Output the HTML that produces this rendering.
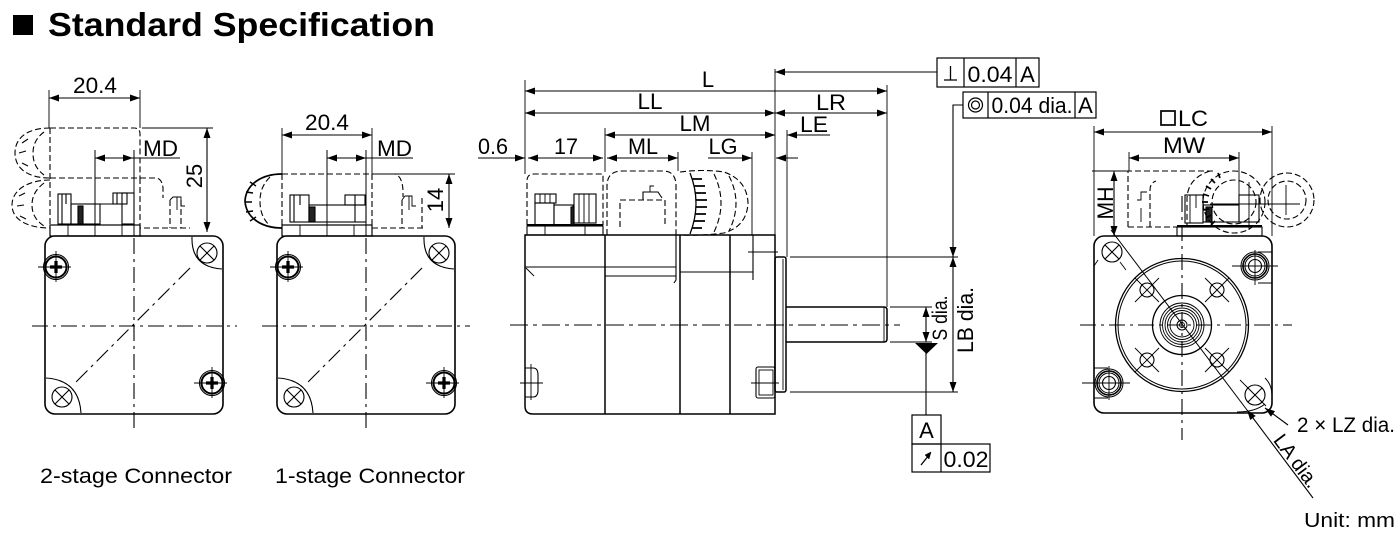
<!DOCTYPE html>
<html><head><meta charset="utf-8"><style>
html,body{margin:0;padding:0;background:#fff;}
svg{display:block;}
text{font-family:"Liberation Sans",Arial,sans-serif;fill:#000;}
</style></head><body>
<svg width="1400" height="534" viewBox="0 0 1400 534" xmlns="http://www.w3.org/2000/svg">
<defs>
<marker id="a" viewBox="0 0 10 7" refX="10" refY="3.5" markerWidth="10" markerHeight="7" markerUnits="userSpaceOnUse" orient="auto-start-reverse"><path d="M0,0 L10,3.5 L0,7 z" fill="#000"/></marker>
<g id="screw" fill="none" stroke="#000">
<circle r="12.5" stroke-width="1.1"/>
<circle r="10.5" stroke-width="2"/>
<path d="M-6 0H6M0-6V6" stroke-width="3.2"/>
<path d="M-18 0H15M0-16V15" stroke-width="0.9"/>
</g>
<g id="hole" fill="none" stroke="#000" stroke-width="1.1">
<circle r="10"/><path d="M-7-7L7 7M7-7L-7 7"/>
</g>
<g id="hole2" fill="none" stroke="#000" stroke-width="1.1">
<circle r="7"/><path d="M-12-12L12 12M12-12L-12 12" stroke-width="0.9"/>
</g>
<g id="body2d" fill="none" stroke="#000">
<rect x="45" y="236" width="178" height="178" rx="10" stroke-width="1.6"/>
<path d="M192 237 Q191 267 222 269" stroke-width="1.1"/>
<path d="M46 378 Q79 380 81 413" stroke-width="1.1"/>
<use href="#hole" x="207" y="253"/>
<use href="#hole" x="62" y="397"/>
<use href="#screw" x="56" y="267"/>
<use href="#screw" x="212" y="383"/>
<path d="M190 268 L73 385" stroke-width="1.1" stroke-dasharray="16 5 3 5"/>
<path d="M134 238 V428" stroke-width="1.1" stroke-dasharray="16 5 3 5"/>
<path d="M134 150 V236" stroke-width="1"/>
<rect x="50" y="225" width="90" height="11" stroke-width="1.2"/>
<path d="M68 225V236M95 225V236M122 225V236" stroke-width="0.9"/>
<path d="M95 150 V225" stroke-width="1"/>
</g>
</defs>
<rect width="1400" height="534" fill="#fff"/>

<!-- Title -->
<rect x="13" y="15" width="20" height="20" fill="#000"/>
<text x="48" y="36" font-size="33" font-weight="bold" textLength="387" lengthAdjust="spacingAndGlyphs">Standard Specification</text>

<!-- ===== View 1 : 2-stage ===== -->
<use href="#body2d"/>
<path d="M32 326 H237" stroke="#000" stroke-width="1.1" stroke-dasharray="16 5 3 5" fill="none"/>
<g fill="none" stroke="#000" stroke-width="1.1">
<rect x="58" y="194" width="13" height="30"/>
<rect x="71" y="204" width="29" height="20"/>
<rect x="78" y="206" width="5" height="18" fill="#222"/>
<rect x="113" y="193" width="14" height="11"/>
<rect x="122" y="193" width="12" height="31"/>
<path d="M100 204 H122"/>
<path d="M62 194V224M66 194V204M117 193V204"/>
<g stroke-dasharray="6 3">
<path d="M50 128 H134 Q140 128 140 134 V178"/>
<path d="M50 178 H140"/>
<path d="M50 128 V226"/>
<path d="M140 178 H155 Q162 178 163 188 V198"/>
<path d="M140 178 V228 H190"/>
<path d="M170 200 V228M181 200 V228"/>
<path d="M50 128 C30 128 15 136 15 153 C15 170 30 178 50 178"/>
<path d="M44 132 C36 138 33 145 33 153 C33 162 36 169 44 175"/>
<path d="M50 180 C28 180 12 190 12 205 C12 220 28 228 50 228"/>
<path d="M44 183 C35 190 32 197 32 205 C32 213 35 220 44 226"/>
</g>
<path d="M170 200 L173 197 H181 V206 H185 M177 197 V210" stroke-width="0.9"/>
<path d="M22 143 L28 139 M19 153 L26 151 M22 163 L28 166 M19 196 L25 193 M17 206 L24 205 M20 216 L26 219" stroke-width="1.1"/>
<path d="M49 90 V128 M140 90 V128" stroke-width="0.9"/>
<path d="M49 98 H140" marker-start="url(#a)" marker-end="url(#a)"/>
<path d="M95 158 H133" marker-start="url(#a)" marker-end="url(#a)"/>
<path d="M133 158 H180"/>
<path d="M142 128 H213" stroke-width="0.9"/>
<path d="M207 128 V232" marker-start="url(#a)" marker-end="url(#a)"/>
</g>
<text x="95" y="93" font-size="22" text-anchor="middle" textLength="44" lengthAdjust="spacingAndGlyphs">20.4</text>
<text x="143" y="156" font-size="22" textLength="35" lengthAdjust="spacingAndGlyphs">MD</text>
<text transform="translate(202,176) rotate(-90)" font-size="22" text-anchor="middle">25</text>

<!-- ===== View 2 : 1-stage ===== -->
<use href="#body2d" x="232"/>
<path d="M262 326 H470" stroke="#000" stroke-width="1.1" stroke-dasharray="16 5 3 5" fill="none"/>
<g fill="none" stroke="#000" stroke-width="1.1">
<rect x="290" y="195" width="19" height="27"/>
<rect x="309" y="205" width="57" height="17"/>
<rect x="309" y="207" width="6" height="15" fill="#222"/>
<rect x="345" y="195" width="20" height="10"/>
<path d="M355 195 V222 M294 195V222 M300 195V205"/>
<g stroke-dasharray="6 3">
<path d="M282 174 H395 Q402 176 403 190 V197"/>
<path d="M372 174 V228 H425"/>
<path d="M282 174 V226"/>
<path d="M402 200 V228 M422 198 V228"/>
<path d="M270 177 C262 185 260 193 260 201 C260 210 262 218 270 226"/>
</g>
<path d="M282 174 C262 174 246 184 245 201 C246 218 262 228 282 228" stroke-width="1.7"/>
<path d="M250 182 L256 186 M246 192 L253 193 M245 202 L252 202 M246 212 L253 211 M250 221 L256 217" stroke-width="1.4"/>
<path d="M402 200 L405 196 H412 V206 H416 M409 196 V210" stroke-width="0.9"/>
<path d="M282 128 V174 M372 128 V174" stroke-width="0.9"/>
<path d="M282 135 H372" marker-start="url(#a)" marker-end="url(#a)"/>
<path d="M327 158 H366" marker-start="url(#a)" marker-end="url(#a)"/>
<path d="M366 158 H413"/>
<path d="M375 174 H455" stroke-width="0.9"/>
<path d="M449 174 V228" marker-start="url(#a)" marker-end="url(#a)"/>
</g>
<text x="327" y="130" font-size="22" text-anchor="middle" textLength="44" lengthAdjust="spacingAndGlyphs">20.4</text>
<text x="377" y="156" font-size="22" textLength="35" lengthAdjust="spacingAndGlyphs">MD</text>
<text transform="translate(443,200) rotate(-90)" font-size="22" text-anchor="middle">14</text>

<text x="40" y="483" font-size="21" textLength="192" lengthAdjust="spacingAndGlyphs">2-stage Connector</text>
<text x="275" y="483" font-size="21" textLength="190" lengthAdjust="spacingAndGlyphs">1-stage Connector</text>

<!-- ===== View 3 : side ===== -->
<g fill="none" stroke="#000" stroke-width="1.5">
<path d="M525 235 H775 V414 H533 Q525 414 525 406 Z"/>
<path d="M605 235 V414 M680 235 V414 M730 235 V414"/>
<path d="M676 235 V280 L674 283 M753 235 V280" stroke-width="1.1"/>
<path d="M525 267 H605 M605 267 H676 M605 276 H676 M680 272 H753" stroke-width="1.1"/>
<path d="M526 268 L534 276" stroke-width="0.9"/>
<path d="M525 368 H533 Q538 368 538 375 V390 Q538 397 533 397 H525" stroke-width="1.1"/>
<path d="M520 383 H543 M531 364 V400" stroke-width="0.9"/>
<rect x="756" y="367" width="19" height="31" rx="2" stroke-width="1.1"/>
<rect x="759" y="370" width="14" height="25" stroke-width="0.9"/>
<path d="M751 383 H779 M748 252 H778" stroke-width="0.9"/>
<rect x="775" y="257" width="11" height="135" rx="2"/>
<path d="M783 259 V390" stroke-width="0.9"/>
<path d="M786 307 H884 Q887 307 887 310 V339 Q887 342 884 342 H786"/>
<path d="M884 307 V342" stroke-width="0.9"/>
</g>
<path d="M510 325 H900" stroke="#000" stroke-width="1.1" stroke-dasharray="18 5 4 5" fill="none"/>
<g fill="none" stroke="#000" stroke-width="1.1">
<rect x="527" y="226" width="76" height="9"/>
<path d="M545 226V235 M585 226V235" stroke-width="0.9"/>
<path d="M527 225 H603" stroke-width="2"/>
<rect x="535" y="194" width="21" height="9"/>
<path d="M540 194V203 M545 194V203 M550 194V203" stroke-width="0.9"/>
<rect x="535" y="203" width="19" height="22"/>
<rect x="554" y="205" width="19" height="20"/>
<rect x="571" y="207" width="3" height="18" fill="#222"/>
<rect x="574" y="194" width="22" height="29"/>
<path d="M579 194V223 M584 194V223 M589 194V223" stroke-width="0.9"/>
<g stroke-dasharray="6 3">
<path d="M527 225 V181 Q527 174 534 174 H603 V225"/>
<path d="M607 235 V186 Q607 171 622 171 H663 Q676 171 676 186 V235"/>
<path d="M620 227 V200 H665 V227"/>
<path d="M680 172 Q702 169 724 172 Q747 180 748 203 Q747 226 724 233 Q702 236 680 235"/>
<path d="M729 176 Q743 203 729 231"/>
<path d="M714 174 Q728 203 714 232"/>
</g>
<path d="M643 200 V192 H658 L662 198" stroke-width="1.1"/>
<path d="M650 192 V186 H654" stroke-width="0.9"/>
<path d="M690 173 Q702 203 690 234" stroke-width="1.3"/>
<path d="M692 179 H702 M694 186 H705 M695 193 H706 M696 200 H707 M696 207 H707 M695 214 H706 M694 221 H705 M692 228 H702" stroke-width="1.7"/>
<path d="M525 80 V174 M605 128 V172 M775 69 V235 M887 85 V307 M787 130 V257 M752 152 V235 M678 152 V171" stroke-width="0.9"/>
<path d="M790 257 H958 M790 392 H958 M890 307 H932 M890 342 H932" stroke-width="0.9"/>
<path d="M525 91 H887" marker-start="url(#a)" marker-end="url(#a)"/>
<path d="M525 113 H775" marker-start="url(#a)" marker-end="url(#a)"/>
<path d="M775 113 H887" marker-start="url(#a)" marker-end="url(#a)"/>
<path d="M605 135 H775" marker-start="url(#a)" marker-end="url(#a)"/>
<path d="M760 135 H775" marker-end="url(#a)"/>
<path d="M830 135 H787" marker-end="url(#a)"/>
<path d="M478 158 H525" marker-end="url(#a)"/>
<path d="M528 158 H603" marker-start="url(#a)" marker-end="url(#a)"/>
<path d="M607 158 H678" marker-start="url(#a)" marker-end="url(#a)"/>
<path d="M708 158 H752" marker-end="url(#a)"/>
<path d="M798 158 H776" marker-end="url(#a)"/>
<path d="M937 72 H775" marker-end="url(#a)"/>
<path d="M963 105 H953 V257" marker-end="url(#a)"/>
<path d="M953 257 V392" marker-start="url(#a)" marker-end="url(#a)"/>
<path d="M926 307 V342" marker-start="url(#a)" marker-end="url(#a)"/>
<path d="M926 353 V415"/>
</g>
<path d="M915 343 H938 L926.5 354 Z" fill="#000"/>
<g fill="none" stroke="#000" stroke-width="1.2">
<rect x="937" y="58" width="102" height="29"/>
<path d="M964 58 V87 M1016 58 V87"/>
<path d="M944 80 H957 M950.5 66 V80" stroke-width="1.3"/>
<rect x="963" y="92" width="133" height="26"/>
<path d="M988 92 V118 M1075 92 V118"/>
<circle cx="975.5" cy="105" r="7" stroke-width="1.2"/>
<circle cx="975.5" cy="105" r="4" stroke-width="1.2"/>
<rect x="912" y="415" width="29" height="29"/>
<rect x="912" y="444" width="78" height="28"/>
<path d="M941 444 V472"/>
<path d="M921 465 L929 455" stroke-width="1.3"/>
<path d="M931 452 L925 455 L929 459 Z" fill="#000" stroke-width="0.5"/>
</g>
<text x="990" y="82" font-size="22" text-anchor="middle" textLength="45" lengthAdjust="spacingAndGlyphs">0.04</text>
<text x="1027.5" y="82" font-size="22" text-anchor="middle">A</text>
<text x="1032" y="113" font-size="22" text-anchor="middle" textLength="81" lengthAdjust="spacingAndGlyphs">0.04 dia.</text>
<text x="1085.5" y="113" font-size="22" text-anchor="middle">A</text>
<text x="926.5" y="438" font-size="22" text-anchor="middle">A</text>
<text x="966" y="467" font-size="22" text-anchor="middle" textLength="45" lengthAdjust="spacingAndGlyphs">0.02</text>
<text x="708" y="87" font-size="22" text-anchor="middle">L</text>
<text x="650" y="109" font-size="22" text-anchor="middle" textLength="25" lengthAdjust="spacingAndGlyphs">LL</text>
<text x="831" y="110" font-size="22" text-anchor="middle" textLength="30" lengthAdjust="spacingAndGlyphs">LR</text>
<text x="695" y="131" font-size="22" text-anchor="middle" textLength="31" lengthAdjust="spacingAndGlyphs">LM</text>
<text x="814" y="132" font-size="22" text-anchor="middle" textLength="28" lengthAdjust="spacingAndGlyphs">LE</text>
<text x="493" y="154" font-size="22" text-anchor="middle" textLength="30" lengthAdjust="spacingAndGlyphs">0.6</text>
<text x="566" y="154" font-size="22" text-anchor="middle" textLength="24" lengthAdjust="spacingAndGlyphs">17</text>
<text x="643" y="154" font-size="22" text-anchor="middle" textLength="30" lengthAdjust="spacingAndGlyphs">ML</text>
<text x="723" y="154" font-size="22" text-anchor="middle" textLength="29" lengthAdjust="spacingAndGlyphs">LG</text>
<text transform="translate(947,318) rotate(-90)" font-size="21" text-anchor="middle" textLength="45" lengthAdjust="spacingAndGlyphs">S dia.</text>
<text transform="translate(973,320) rotate(-90)" font-size="22" text-anchor="middle" textLength="66" lengthAdjust="spacingAndGlyphs">LB dia.</text>

<!-- ===== View 4 : front ===== -->
<g fill="none" stroke="#000" stroke-width="1.1">
<rect x="1094" y="236" width="178" height="177" rx="10" stroke-width="1.6"/>
<path d="M1182 196 V440" stroke-dasharray="16 5 3 5"/>
<path d="M1080 325 H1292" stroke-dasharray="16 5 3 5"/>
<circle cx="1182" cy="325" r="66.5" stroke-width="1.3"/>
<circle cx="1182" cy="325" r="64" stroke-width="1"/>
<circle cx="1182" cy="325" r="29.5" stroke-width="1.3"/>
<circle cx="1182" cy="325" r="22" stroke-width="0.9"/>
<circle cx="1182" cy="325" r="19.5" stroke-width="0.9"/>
<circle cx="1182" cy="325" r="17" stroke-width="0.9"/>
<circle cx="1182" cy="325" r="14.5" stroke-width="0.9"/>
<circle cx="1182" cy="325" r="12" stroke-width="0.9"/>
<circle cx="1182" cy="325" r="5" stroke-width="1"/>
<circle cx="1182" cy="325" r="2.5" stroke-width="0.9"/>
<use href="#hole2" x="1147" y="290"/>
<use href="#hole2" x="1217" y="290"/>
<use href="#hole2" x="1147" y="360"/>
<use href="#hole2" x="1217" y="360"/>
<circle cx="1112" cy="252" r="10"/><path d="M1105 245 L1119 259 M1119 245 L1105 259"/>
<path d="M1098 260 L1094 266 M1120 262 L1126 270" stroke-width="0.9"/>
<circle cx="1255" cy="395" r="10"/><path d="M1248 388 L1262 402 M1262 388 L1248 402"/>
<path d="M1240 380 L1249 389 M1261 401 L1266 406" stroke-width="0.9"/>
<path d="M1237 412 Q1255 412 1265 404" stroke-width="1"/>
<path d="M1265 378 Q1272 385 1272 395" stroke-width="1"/>
<circle cx="1255" cy="266" r="14" stroke-width="1"/>
<circle cx="1255" cy="266" r="12" stroke-width="1.6"/>
<circle cx="1255" cy="266" r="10" stroke-width="1"/>
<circle cx="1255" cy="266" r="6.5" stroke-width="1.1"/>
<path d="M1232 266 H1278 M1255 250 V285" stroke-width="0.9"/>
<path d="M1258 252 H1272 M1258 283 H1272" stroke-width="0.9"/>
<circle cx="1109" cy="383" r="14" stroke-width="1"/>
<circle cx="1109" cy="383" r="12" stroke-width="1.6"/>
<circle cx="1109" cy="383" r="10" stroke-width="1"/>
<circle cx="1109" cy="383" r="6.5" stroke-width="1.1"/>
<path d="M1082 383 H1130 M1109 366 V400" stroke-width="0.9"/>
<path d="M1094 368 H1108 M1094 398 H1108" stroke-width="0.9"/>
<path d="M1111 230 L1247 410" stroke-width="1"/>
<path d="M1313 498 L1247 410" marker-end="url(#a)"/>
<path d="M1288 425 L1265 408" marker-end="url(#a)"/>
<rect x="1177" y="227" width="85" height="9"/>
<path d="M1177 226 H1262" stroke-width="1.9"/>
<rect x="1185" y="195" width="18" height="28"/>
<path d="M1190 195V223M1196 195V208" stroke-width="0.9"/>
<rect x="1203" y="205" width="36" height="17"/>
<rect x="1206" y="207" width="6" height="15" fill="#222"/>
<rect x="1239" y="195" width="20" height="27"/>
<path d="M1249 182 V230 M1210 204 H1300 M1286 185 V215" stroke-width="0.9"/>
<g stroke-dasharray="6 3">
<path d="M1128 227 V171 H1215"/>
<path d="M1128 227 H1177"/>
<path d="M1150 227 V190 Q1150 183 1156 181"/>
<path d="M1210 171 Q1188 178 1187 198 V227"/>
<circle cx="1234" cy="202" r="31"/>
<circle cx="1234" cy="202" r="22"/>
<circle cx="1287" cy="200" r="27"/>
<circle cx="1287" cy="200" r="19"/>
</g>
<path d="M1137 200 H1141 V192 H1147 M1141 208 V222" stroke-width="0.9"/>
<path d="M1206 186 L1211 189 M1203 194 L1209 196 M1202 202 L1208 202 M1203 210 L1209 209 M1206 218 L1211 215 M1211 225 L1215 221 M1211 179 L1215 183 M1218 173 L1220 178" stroke-width="1.7"/>
<path d="M1094 126 V236 M1272 126 V236" stroke-width="0.9"/>
<path d="M1094 132 H1272" marker-start="url(#a)" marker-end="url(#a)"/>
<path d="M1129 152 V171 M1239 152 V195" stroke-width="0.9"/>
<path d="M1129 158 H1239" marker-start="url(#a)" marker-end="url(#a)"/>
<path d="M1092 171 H1128" stroke-width="0.9"/>
<path d="M1114 171 V236" marker-start="url(#a)" marker-end="url(#a)"/>
</g>
<rect x="1161" y="111" width="14" height="14" fill="none" stroke="#000" stroke-width="1.7"/>
<text x="1178" y="126" font-size="22" textLength="30" lengthAdjust="spacingAndGlyphs">LC</text>
<text x="1184" y="153" font-size="22" text-anchor="middle" textLength="42" lengthAdjust="spacingAndGlyphs">MW</text>
<text transform="translate(1113,203) rotate(-90)" font-size="22" text-anchor="middle" textLength="33" lengthAdjust="spacingAndGlyphs">MH</text>
<text transform="translate(1291,465) rotate(53.1)" font-size="20" text-anchor="middle">LA dia.</text>
<text x="1297" y="432" font-size="21" textLength="98" lengthAdjust="spacingAndGlyphs">2 × LZ dia.</text>
<text x="1304" y="527" font-size="20" textLength="91" lengthAdjust="spacingAndGlyphs">Unit: mm</text>
</svg>
</body></html>
